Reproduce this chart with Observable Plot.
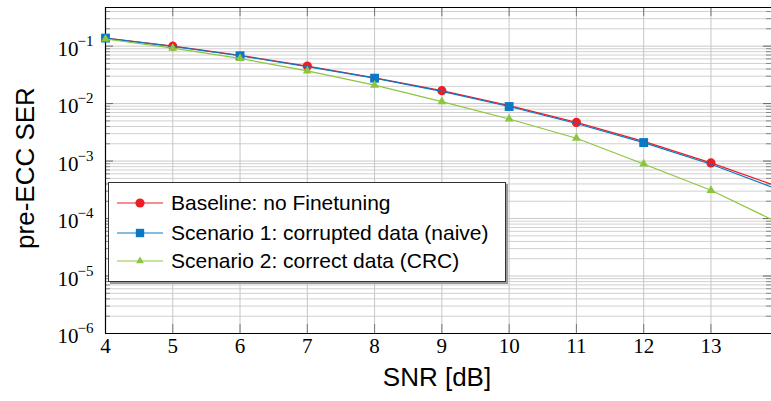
<!DOCTYPE html>
<html>
<head>
<meta charset="utf-8">
<script src="https://cdn.jsdelivr.net/npm/d3@7"></script>
<script src="https://cdn.jsdelivr.net/npm/@observablehq/plot@0.6"></script>
<style>
  body { margin: 0; background: #fff; }
  #wrap { position: relative; width: 771px; height: 401px; overflow: hidden; }
  #wrap svg { display: block; }
  .lab { position: absolute; font-family: "Liberation Sans", Arial, sans-serif; font-size: 26px; color: #000; white-space: nowrap; }
  #legend { position: absolute; left: 108px; top: 182px; width: 396px; height: 98px; background: #fff;
            border: 1px solid #333; box-shadow: 2px 2px 0 #999; font-family: "Liberation Sans", Arial, sans-serif; font-size: 21px; }
  .row { position: absolute; left: 0; height: 28px; display: flex; align-items: center; }
  .row svg { margin-left: 8px; margin-right: 8px; }
</style>
</head>
<body>
<div id="wrap"></div>
<script>
// ---- data ----
const snr = [4, 5, 6, 7, 8, 9, 10, 11, 12, 13, 14];
const baseline = [0.138, 0.100, 0.069, 0.045, 0.0280, 0.0168, 0.0092, 0.0047, 0.0022, 0.00093, 0.00036];
const naive    = [0.138, 0.099, 0.068, 0.0440, 0.0277, 0.0163, 0.0089, 0.0045, 0.0021, 0.00088, 0.00032];
const crc      = [0.133, 0.092, 0.061, 0.037, 0.021, 0.0108, 0.0054, 0.0025, 0.00089, 0.00031, 0.000085];
const seriesNames = ["Baseline: no Finetuning", "Scenario 1: corrupted data (naive)", "Scenario 2: correct data (CRC)"];
const seriesColors = ["#ee1d25", "#0a78c2", "#8cc63e"];
const markBaseline = [5, 7, 9, 11, 13];
const markNaive = [4, 6, 8, 10, 12];
const markCrc = [4, 5, 6, 7, 8, 9, 10, 11, 12, 13];
const xTicks = [4, 5, 6, 7, 8, 9, 10, 11, 12, 13];
const yDecades = [1e-6, 1e-5, 1e-4, 1e-3, 1e-2, 1e-1];
const yExpLabels = ["−6", "−5", "−4", "−3", "−2", "−1"];
const xDomain = [4, 13.9];
const yDomain = [1e-6, 0.47];

// minor tick positions for log axis
const yMinor = [];
for (const d of yDecades) for (let k = 2; k <= 9; k++) { const v = k * d; if (v <= yDomain[1]) yMinor.push(v); }

const rows = (ys) => snr.map((x, i) => ({x, y: ys[i]}));
const pick = (ys, xs) => xs.map(x => ({x, y: ys[snr.indexOf(x)]}));

const W = 771, H = 401, mL = 105, mR = 0, mT = 7, mB = 68;
const plotW = W - mL - mR, plotH = H - mT - mB;

const serif = "'Liberation Serif', 'Times New Roman', serif";

const chart = Plot.plot({
  width: W, height: H,
  marginLeft: mL, marginRight: mR, marginTop: mT, marginBottom: mB,
  x: {domain: xDomain, axis: null},
  y: {type: "log", domain: yDomain, axis: null},
  marks: [
    // grid
    Plot.ruleY(yMinor, {stroke: "#d0d0d0", strokeWidth: 1}),
    Plot.ruleY(yDecades, {stroke: "#c8c8c8", strokeWidth: 1}),
    Plot.ruleX(xTicks.slice(1), {stroke: "#c6c6c6", strokeWidth: 1}),
    // inward ticks
    Plot.ruleY(yMinor, {stroke: "#888", insetRight: plotW - 5}),
    Plot.ruleY(yDecades, {stroke: "#666", insetRight: plotW - 8}),
    Plot.ruleY(yMinor, {stroke: "#888", insetLeft: plotW - 5}),
    Plot.ruleY(yDecades, {stroke: "#666", insetLeft: plotW - 8}),
    Plot.ruleX(xTicks.slice(1), {stroke: "#777", insetBottom: plotH - 9}),
    Plot.ruleX(xTicks.slice(1), {stroke: "#777", insetTop: plotH - 9}),
    // frame (left, top, bottom)
    Plot.ruleX([xDomain[0]], {stroke: "#000", strokeWidth: 1.2}),
    Plot.ruleY([yDomain[0]], {stroke: "#000", strokeWidth: 1.2}),
    Plot.ruleY([yDomain[1]], {stroke: "#000", strokeWidth: 1.2}),
    // series
    Plot.line(rows(baseline), {x: "x", y: "y", stroke: seriesColors[0], strokeWidth: 1.2, clip: true}),
    Plot.dot(pick(baseline, markBaseline), {x: "x", y: "y", r: 4.6, fill: seriesColors[0], stroke: "none"}),
    Plot.line(rows(naive), {x: "x", y: "y", stroke: seriesColors[1], strokeWidth: 1.2, clip: true}),
    Plot.dot(pick(naive, markNaive), {x: "x", y: "y", symbol: "square", r: 5, fill: seriesColors[1], stroke: "none"}),
    Plot.line(rows(crc), {x: "x", y: "y", stroke: seriesColors[2], strokeWidth: 1.2, clip: true}),
    Plot.dot(pick(crc, markCrc), {x: "x", y: "y", symbol: "triangle", r: 3.3, fill: seriesColors[2], stroke: "none"}),
    // tick labels
    Plot.text(xTicks, {x: d => d, frameAnchor: "bottom", dy: 19, fontSize: 21, fontFamily: serif, fill: "#000"}),
    Plot.text(yDecades, {y: d => d, frameAnchor: "left", text: () => "10", textAnchor: "end", dx: -27, dy: 3, fontSize: 21, fontFamily: serif, fill: "#000"}),
    Plot.text(yDecades, {y: d => d, frameAnchor: "left", text: (d, i) => yExpLabels[i], textAnchor: "end", dx: -12, dy: -5, fontSize: 15, fontFamily: serif, fill: "#000"})
  ]
});

const wrap = document.getElementById("wrap");
wrap.appendChild(chart);

// axis labels
const yl = document.createElement("div");
yl.className = "lab";
yl.textContent = "pre-ECC SER";
yl.style.left = "25px"; yl.style.top = "168px";
yl.style.transform = "translate(-50%, -50%) rotate(-90deg)";
wrap.appendChild(yl);

const xl = document.createElement("div");
xl.className = "lab";
xl.textContent = "SNR [dB]";
xl.style.left = "437px"; xl.style.top = "377px";
xl.style.transform = "translate(-50%, -50%)";
wrap.appendChild(xl);

// legend
const lg = document.createElement("div");
lg.id = "legend";
const rowTops = [6, 36, 64];
seriesNames.forEach((name, i) => {
  const r = document.createElement("div");
  r.className = "row";
  r.style.top = rowTops[i] + "px";
  const s = d3.create("svg").attr("width", 46).attr("height", 20);
  s.append("line").attr("x1", 0).attr("x2", 46).attr("y1", 10).attr("y2", 10)
    .attr("stroke", seriesColors[i]).attr("stroke-width", 1.2);
  const sym = [d3.symbolCircle, d3.symbolSquare, d3.symbolTriangle][i];
  const size = [Math.PI * 4.6 * 4.6, 70, 26][i];
  s.append("path").attr("d", d3.symbol(sym, size)()).attr("transform", "translate(23,10)").attr("fill", seriesColors[i]);
  r.appendChild(s.node());
  const t = document.createElement("span");
  t.textContent = name;
  r.appendChild(t);
  lg.appendChild(r);
});
wrap.appendChild(lg);
</script>
</body>
</html>
